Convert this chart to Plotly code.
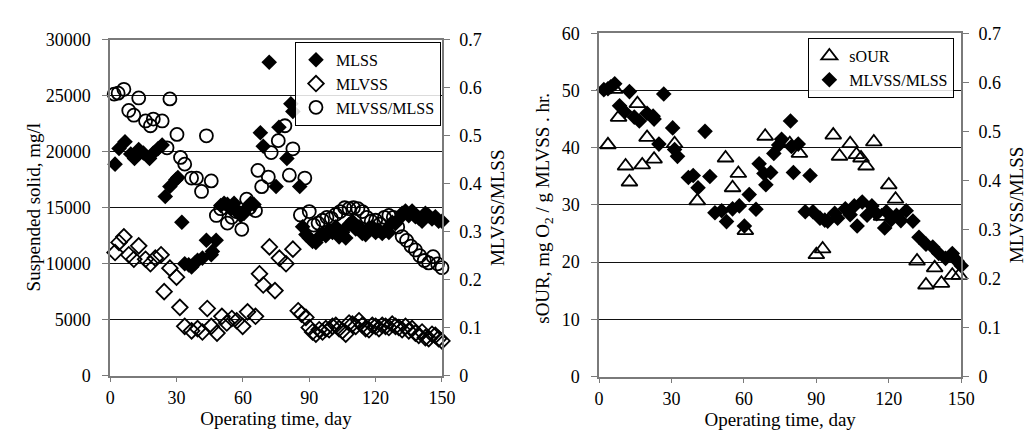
import plotly.graph_objects as go

# ---------------- Left panel data ----------------
mlss_day = [2.2, 4, 6.7, 9.3, 11, 12.9, 15, 17.8, 19.5, 21.7, 23.5, 24.9, 27, 29.7, 30.6, 32.4,
            33.7, 35.5, 36.8, 38.5, 39.5, 41.7, 43.5, 45.7, 46.2, 47.9,
            50, 51.5, 53, 54.5, 56, 57.5, 59, 60.5, 62, 63.5, 65,
            67.9, 69.2, 71.9, 75, 76.3, 79.9, 81.7, 82.6, 85.7,
            87, 88.5, 90, 91.5, 93, 94.5, 96, 97.5, 99, 100.5, 102, 103.5, 105, 106.5, 108, 109.5,
            111, 112.5, 114, 115.5, 117, 118.5, 120, 121.5, 123, 124.5, 126, 127.5, 129, 130.5,
            132, 133.5, 135, 136.5, 138, 139.5, 141, 142.5, 144, 145.5, 147, 148.5, 150]
mlss_val = [18900, 20300, 20900, 19800, 19400, 20200, 19900, 19400, 19900, 20300, 20600, 16000, 16900, 17500, 17700, 13700,
            10000, 9900, 9700, 10100, 10300, 10500, 12100, 10800, 11100, 12100,
            15200, 15400, 15300, 14900, 15400, 14600, 14300, 14500, 15000, 15400, 15300,
            21700, 20500, 28000, 16900, 22200, 19400, 24300, 23600, 16900,
            13300, 12600, 12300, 12000, 11900, 12400, 12700, 12500, 13000, 12800, 13300, 12400, 12800, 12300, 13500, 13800,
            13100, 13300, 12700, 12600, 13200, 13300, 12800, 13000, 12700, 13000, 12800, 13700, 13600, 14000,
            14500, 14700, 14300, 14700, 14200, 14100, 13800, 14500, 14300, 14000, 14200, 13800, 13800]

mlvss_day = [2.2, 4, 6.2, 8.4, 10.7, 12.9, 16, 18.2, 20.4, 23, 24.4, 27, 30, 31.5, 33.7, 36.8, 39.5, 41.7,
             43.9, 45.7, 48.3, 50.5, 52.7, 55, 57.2, 59.9, 62.1, 65.7,
             67.5, 69.2, 72, 74.5, 76.5, 79.5, 82.6,
             85, 86.5, 88.5, 90, 91.5, 93, 94.5, 96, 97.5, 99, 100.5, 102, 103.5, 105, 106.5, 108, 109.5,
             111, 112.5, 114, 115.5, 117, 118.5, 120, 121.5, 123, 124.5, 126, 127.5, 129, 130.5,
             132, 133.5, 135, 136.5, 138, 139.5, 141, 142.5, 144, 145.5, 147, 148.5, 150]
mlvss_val = [11000, 11900, 12400, 10800, 10400, 11600, 10400, 10000, 10500, 10800, 7500, 9600, 8800, 6100, 4400, 4000, 4200, 3900,
             6000, 4400, 3800, 5300, 4700, 5100, 4900, 4400, 5700, 5300,
             9100, 8100, 11500, 7600, 10500, 10000, 11300,
             5800, 5500, 5200, 4300, 3900, 3700, 4100, 3900, 4200, 4100, 4400, 4500, 4200, 4000, 3700, 4700, 4600,
             4400, 4900, 4500, 4200, 4100, 4500, 4400, 4200, 4500, 4400, 4300, 4600, 4400, 4300,
             4100, 4400, 4000, 4200, 3800, 3600, 3900, 3400, 3300, 3700, 3600, 3300, 3100]

ratio_l_day = [1.8, 3.6, 6.2, 8.4, 10.7, 12.9, 16, 18.2, 19.5, 23.5, 25.7, 27, 30.2, 31.8, 33.7, 36.8, 39, 41.3,
               43.5, 45.7, 48, 50, 53, 55, 57, 59.5, 61.7, 63, 65.7,
               66.8, 68.5, 71.5, 72.8, 76, 79, 81, 82.6, 88,
               86, 90, 92, 94, 96, 98, 100, 102, 104, 106, 108, 110, 112, 114, 116, 118, 120, 122, 124, 126,
               128, 130, 132, 134, 136, 138, 140, 142, 144, 146, 148, 150]
ratio_l_val = [0.587, 0.589, 0.597, 0.553, 0.543, 0.579, 0.531, 0.521, 0.535, 0.531, 0.475, 0.577, 0.503, 0.455, 0.441, 0.412, 0.412, 0.384,
               0.500, 0.406, 0.334, 0.348, 0.318, 0.330, 0.342, 0.305, 0.368, 0.350, 0.344,
               0.428, 0.394, 0.414, 0.465, 0.490, 0.521, 0.418, 0.473, 0.412,
               0.335, 0.342, 0.314, 0.318, 0.324, 0.330, 0.328, 0.336, 0.342, 0.350, 0.348, 0.350, 0.348, 0.342, 0.330, 0.322, 0.324, 0.316, 0.330, 0.334,
               0.330, 0.310, 0.290, 0.282, 0.270, 0.262, 0.250, 0.240, 0.235, 0.248, 0.233, 0.225]

# ---------------- Right panel data ----------------
sour_day = [3.7, 6.5, 8.1, 11, 12.6, 15.9, 17.9, 19.9, 22.8, 31.3, 40.7, 52.4, 55.3, 57.7, 60.6, 68.8,
            79, 83, 90, 92.6, 97, 99.6, 104, 106.6, 108.5, 110.6, 113.8, 117, 120, 122.8,
            131.7, 135.4, 139, 141.8, 146.3, 149.2]
sour_val = [40.5, 50.2, 45.3, 36.8, 34.0, 47.7, 37.0, 41.8, 38.0, 40.7, 30.7, 38.2, 33.0, 35.5, 25.5, 42.0,
            40.7, 39.0, 21.3, 22.3, 42.2, 38.5, 40.7, 38.8, 38.2, 36.8, 41.0, 28.0, 33.5, 31.0,
            20.2, 16.0, 19.0, 16.3, 17.7, 17.7]

ratio_r_day = [2, 3.7, 4.9, 6.5, 8.5, 10.6, 12.6, 14.6, 16.7, 19.9, 22.4, 22.8, 24.8, 26.8, 30.5, 31.3, 32.5,
               37, 39, 41, 43.9, 45.9, 48, 50.8, 52.8, 55.3, 58.1, 60.2, 62.2, 65,
               66.3, 68.3, 69.1, 71.1, 72.4, 74.4, 75.6, 79.3, 79.7, 80.5, 82.5, 85.4, 87.4, 88.6,
               91.5, 93.5, 94.7, 97.6, 98.8, 102, 104, 105.7, 106.9, 109, 111, 113, 115, 118.3, 119,
               121, 123.2, 125, 127.2, 130, 132.5, 135.4, 138.2, 140.7, 143.5, 146.3, 148.4, 150]
ratio_r_val = [0.585, 0.587, 0.591, 0.597, 0.552, 0.540, 0.581, 0.529, 0.521, 0.537, 0.531, 0.525, 0.474, 0.576, 0.507, 0.463, 0.449,
               0.406, 0.410, 0.385, 0.500, 0.408, 0.334, 0.338, 0.316, 0.342, 0.348, 0.307, 0.371, 0.341,
               0.434, 0.414, 0.391, 0.416, 0.455, 0.472, 0.484, 0.521, 0.469, 0.416, 0.474, 0.336, 0.410, 0.336,
               0.323, 0.319, 0.317, 0.333, 0.323, 0.342, 0.330, 0.348, 0.307, 0.356, 0.329, 0.348, 0.332, 0.303, 0.336,
               0.320, 0.329, 0.318, 0.338, 0.317, 0.284, 0.270, 0.264, 0.251, 0.241, 0.251, 0.235, 0.226]

x_ticks = [0, 30, 60, 90, 120, 150]

FONT = "Liberation Serif"
AX = "#7a7a7a"
W, H = 1033, 431

fig = go.Figure()

def add(x, y, name, symbol, size, xa, ya, legend, lw=1.8, color="black"):
    fig.add_trace(go.Scatter(
        x=x, y=y, name=name, mode="markers", xaxis=xa, yaxis=ya, legend=legend,
        cliponaxis=False,
        marker=dict(symbol=symbol, size=size, color=color,
                    line=dict(color="black", width=lw))))

add(mlss_day, mlss_val, "MLSS", "diamond", 12, "x", "y", "legend", lw=0)
add(mlvss_day, mlvss_val, "MLVSS", "diamond-open", 12, "x", "y", "legend")
add(ratio_l_day, ratio_l_val, "MLVSS/MLSS", "circle-open", 13, "x", "y2", "legend")
add(sour_day, sour_val, "sOUR", "triangle-up-open", 14, "x2", "y3", "legend2")
add(ratio_r_day, ratio_r_val, "MLVSS/MLSS", "diamond", 12, "x2", "y4", "legend2", lw=0)

tickfont = dict(family=FONT, size=18, color="black")
titlefont = dict(family=FONT, size=19, color="black")

def xax(domain, anchor):
    return dict(domain=domain, anchor=anchor, range=[0, 150], tickvals=x_ticks,
                ticks="outside", ticklen=5, tickcolor=AX, showline=True, linecolor=AX, linewidth=1.5,
                mirror=True, showgrid=False, zeroline=False, tickfont=tickfont,
                title=dict(text="Operating time, day", font=titlefont, standoff=2))

def yax_left(domain, anchor, rng, dtick):
    return dict(domain=domain, anchor=anchor, range=rng, dtick=dtick, tick0=0, tickformat="d",
                ticks="outside", ticklen=6, tickcolor=AX, showline=True, linecolor=AX, linewidth=1.5,
                showgrid=True, gridcolor="#111111", gridwidth=1, zeroline=False, tickfont=tickfont,
                ticklabelstandoff=8)

def yax_right(overlay, anchor, title):
    return dict(overlaying=overlay, anchor=anchor, side="right", range=[0, 0.7], dtick=0.1, tick0=0,
                ticks="outside", ticklen=6, tickcolor=AX, showline=True, linecolor=AX, linewidth=1.5,
                showgrid=False, zeroline=False, tickfont=tickfont, ticklabelstandoff=6,
                title=dict(text=title, font=titlefont, standoff=10))

lx = [99 / W, 437 / W]
ly = [1 - 375 / H, 1 - 23 / H]
rx = [597 / W, 966 / W]
ry = [1 - 376 / H, 1 - 16 / H]

legend_common = dict(xanchor="right", yanchor="top",
                     bordercolor="black", borderwidth=1, bgcolor="rgba(255,255,255,0.85)",
                     font=dict(family=FONT, size=16, color="black"), tracegroupgap=0,
                     itemwidth=30)

# left-side y-axis titles placed as rotated text
ytitles = [
    dict(text="Suspended solid, mg/l", x=21 / W, y=1 - 199 / H),
    dict(text="sOUR, mg O<sub>2</sub> / g MLVSS . hr.", x=541 / W, y=1 - 200 / H),
]
annotations = [dict(text=t["text"], x=t["x"], y=t["y"], xref="paper", yref="paper",
                    xanchor="center", yanchor="middle", textangle=-90, showarrow=False,
                    font=titlefont) for t in ytitles]

fig.update_layout(
    width=W, height=H, autosize=False,
    margin=dict(l=0, r=0, t=0, b=0),
    paper_bgcolor="white", plot_bgcolor="white",
    font=dict(family=FONT, color="black"),
    xaxis=xax(lx, "y"),
    yaxis=yax_left(ly, "x", [0, 30000], 5000),
    yaxis2=yax_right("y", "x", "MLVSS/MLSS"),
    xaxis2=xax(rx, "y3"),
    yaxis3=yax_left(ry, "x2", [0, 60], 10),
    yaxis4=yax_right("y3", "x2", "MLVSS/MLSS"),
    legend=dict(x=436 / W, y=1 - 25 / H, **legend_common),
    legend2=dict(x=959 / W, y=1 - 21 / H, **legend_common),
    annotations=annotations,
    showlegend=True,
)

fig.write_html("out.html")
